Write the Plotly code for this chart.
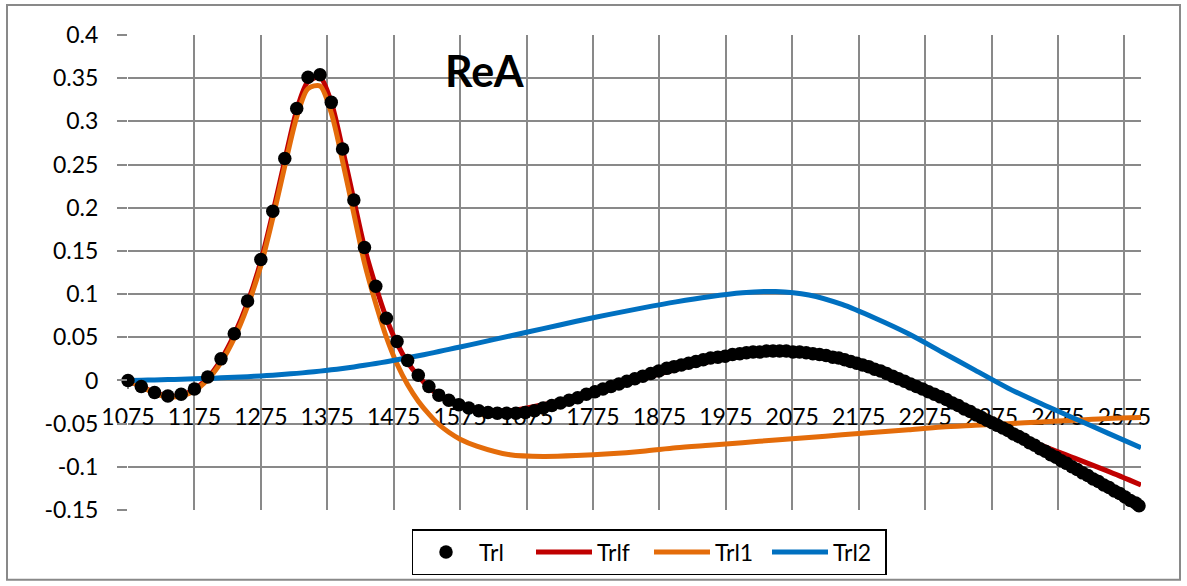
import plotly.graph_objects as go

# ---------------- data ----------------
trl_x = [1075, 1095, 1115, 1135, 1155, 1175, 1195, 1215, 1235, 1255, 1275, 1293, 1311, 1329, 1346, 1364,
         1381, 1398, 1415, 1431, 1448, 1464, 1480, 1496, 1512, 1528, 1543, 1558, 1573, 1588, 1603, 1617,
         1631, 1645, 1659, 1673, 1687, 1700, 1713, 1726, 1739, 1752, 1765, 1778, 1790, 1802, 1814, 1826,
         1838, 1850, 1862, 1874, 1886, 1897, 1908, 1919, 1930, 1941, 1952, 1963, 1974, 1985, 1996, 2006,
         2016, 2026, 2036, 2046, 2056, 2066, 2076, 2086, 2096, 2106, 2116, 2126, 2136, 2145, 2154, 2163,
         2172, 2181, 2190, 2199, 2208, 2217, 2226, 2235, 2244, 2253, 2262, 2271, 2280, 2289, 2298, 2307,
         2316, 2325, 2334, 2343, 2352, 2360, 2368, 2376, 2384, 2392, 2400, 2408, 2416, 2424, 2432, 2440,
         2448, 2456, 2464, 2472, 2480, 2488, 2496, 2504, 2512, 2520, 2528, 2536, 2544, 2552, 2560, 2568,
         2576, 2584, 2592, 2597]
trl_y = [0.000, -0.007, -0.014, -0.018, -0.016, -0.010, 0.004, 0.025, 0.054, 0.092, 0.140, 0.196, 0.257,
         0.315, 0.351, 0.354, 0.322, 0.268, 0.209, 0.154, 0.109, 0.072, 0.045, 0.023, 0.006, -0.007,
         -0.017, -0.023, -0.028, -0.032, -0.035, -0.037, -0.038, -0.038, -0.038, -0.037, -0.035, -0.032,
         -0.029, -0.026, -0.023, -0.020, -0.016, -0.013, -0.010, -0.007, -0.004, -0.001, 0.002, 0.005,
         0.008, 0.011, 0.014, 0.016, 0.018, 0.020, 0.022, 0.024, 0.026, 0.027, 0.028, 0.030, 0.031, 0.032,
         0.033, 0.033, 0.034, 0.034, 0.034, 0.034, 0.033, 0.033, 0.032, 0.031, 0.030, 0.029, 0.027, 0.026,
         0.024, 0.022, 0.020, 0.018, 0.016, 0.013, 0.011, 0.008, 0.005, 0.002, -0.001, -0.004, -0.007,
         -0.010, -0.013, -0.016, -0.019, -0.022, -0.026, -0.029, -0.033, -0.036, -0.040, -0.043, -0.046,
         -0.049, -0.052, -0.055, -0.058, -0.062, -0.065, -0.068, -0.072, -0.075, -0.079, -0.082, -0.086,
         -0.089, -0.093, -0.096, -0.100, -0.103, -0.107, -0.110, -0.114, -0.117, -0.121, -0.124, -0.128,
         -0.131, -0.135, -0.139, -0.142, -0.145]

line_x = [1075, 1095, 1115, 1135, 1155, 1175, 1195, 1215, 1235, 1255, 1275, 1293, 1311, 1329, 1346, 1364,
          1381, 1398, 1415, 1431, 1448, 1464, 1480, 1496, 1512, 1528, 1543, 1558, 1575, 1600, 1650, 1700,
          1750, 1800, 1850, 1900, 1950, 2000, 2050, 2100, 2150, 2200, 2250, 2300, 2350, 2400, 2450, 2500,
          2550, 2600]
trl2_y = [0.0000, 0.0003, 0.0006, 0.0010, 0.0014, 0.0019, 0.0024, 0.0030, 0.0037, 0.0044, 0.0052, 0.0061,
          0.0071, 0.0082, 0.0094, 0.0108, 0.0123, 0.0139, 0.0157, 0.0176, 0.0196, 0.0217, 0.0239, 0.0262,
          0.0286, 0.0311, 0.0335, 0.0360, 0.0388, 0.0430, 0.0515, 0.0600, 0.0685, 0.0765, 0.0840, 0.0910,
          0.0970, 0.1015, 0.1030, 0.0990, 0.0880, 0.0720, 0.0540, 0.0330, 0.0120, -0.0090, -0.0270,
          -0.0440, -0.0610, -0.0780]
trl1_y = [0.000, -0.007, -0.015, -0.019, -0.018, -0.012, 0.001, 0.021, 0.049, 0.086, 0.133, 0.188, 0.248,
          0.305, 0.338, 0.341, 0.310, 0.254, 0.193, 0.136, 0.089, 0.050, 0.019, -0.005, -0.024, -0.039,
          -0.051, -0.060, -0.068, -0.076, -0.086, -0.088, -0.087, -0.085, -0.082, -0.078, -0.075, -0.072,
          -0.069, -0.066, -0.063, -0.060, -0.057, -0.054, -0.052, -0.050, -0.048, -0.046, -0.044, -0.043]
trlf_y = [0.000, -0.007, -0.014, -0.018, -0.017, -0.010, 0.003, 0.024, 0.053, 0.090, 0.138, 0.194, 0.255,
          0.313, 0.346, 0.351, 0.322, 0.268, 0.209, 0.154, 0.109, 0.072, 0.043, 0.021, 0.005, -0.008,
          -0.017, -0.024, -0.029, -0.033, -0.035, -0.028, -0.019, -0.0085, 0.002, 0.013, 0.022, 0.0295,
          0.034, 0.033, 0.025, 0.012, -0.003, -0.021, -0.040, -0.059, -0.075, -0.090, -0.105, -0.121]

x_tickvals = [1075, 1175, 1275, 1375, 1475, 1575, 1675, 1775, 1875, 1975, 2075, 2175, 2275, 2375, 2475, 2575]
x_ticktext = ["1075", "1175", "1275", "1375", "1475", "1575", "1675", "1775", "1875", "1975", "2075",
              "2175", "2275", "2375", "2475", "2575"]
y_tickvals = [-0.15, -0.1, -0.05, 0, 0.05, 0.1, 0.15, 0.2, 0.25, 0.3, 0.35, 0.4]
y_ticktext = ["-0.15", "-0.1", "-0.05", "0", "0.05", "0.1", "0.15", "0.2", "0.25", "0.3", "0.35", "0.4"]
title_text = "ReA"

# ---------------- layout geometry ----------------
W, H = 1187, 586
L, R, T, B = 128, 46, 35, 75
pw, ph = W - L - R, H - T - B
X_MIN, X_MAX = 1075, 2600
Y_MIN, Y_MAX = -0.15, 0.4

def px_x(p):
    return (p - L) / pw

def px_y(p):
    return (H - B - p) / ph

FONT = "Lato"
FS = 23
GRID = "#898989"
LW = 5

fig = go.Figure()
fig.add_trace(go.Scatter(x=line_x, y=trlf_y, mode="lines", name="Trlf", legendrank=2,
                         line=dict(color="#C00000", width=LW, shape="spline", smoothing=0.8)))
fig.add_trace(go.Scatter(x=line_x, y=trl1_y, mode="lines", name="Trl1", legendrank=3,
                         line=dict(color="#E46C0A", width=LW, shape="spline", smoothing=0.8)))
fig.add_trace(go.Scatter(x=line_x, y=trl2_y, mode="lines", name="Trl2", legendrank=4,
                         line=dict(color="#0070C0", width=LW, shape="spline", smoothing=0.8)))
fig.add_trace(go.Scatter(x=trl_x, y=trl_y, mode="markers", name="Trl", legendrank=1, cliponaxis=False,
                         marker=dict(color="black", size=13.5, line=dict(width=0))))

fig.update_layout(
    width=W, height=H,
    margin=dict(l=L, r=R, t=T, b=B, pad=0),
    paper_bgcolor="white", plot_bgcolor="white",
    font=dict(family=FONT, size=FS, color="black"),
    showlegend=True,
    legend=dict(orientation="h", x=px_x(649), xanchor="center", y=px_y(529), yanchor="top",
                bordercolor="black", borderwidth=1.5, bgcolor="white",
                font=dict(family=FONT, size=FS, color="black"),
                itemwidth=56, entrywidth=47, traceorder="normal"),
    xaxis=dict(range=[X_MIN, X_MAX], tickvals=x_tickvals, ticktext=x_ticktext,
               showgrid=True, gridcolor=GRID, gridwidth=2, zeroline=False,
               showline=False, ticks="outside", ticklen=8, tickcolor=GRID, tickwidth=2,
               anchor="free", position=(0 - Y_MIN) / (Y_MAX - Y_MIN), layer="below traces",
               ticklabelstandoff=8,
               tickfont=dict(family=FONT, size=FS, color="black")),
    yaxis=dict(range=[Y_MIN, Y_MAX], tickvals=y_tickvals, ticktext=y_ticktext,
               showgrid=True, gridcolor=GRID, gridwidth=2, zeroline=False,
               showline=False, ticks="outside", ticklen=10, tickcolor=GRID, tickwidth=2,
               tickfont=dict(family=FONT, size=FS, color="black"), ticklabelstandoff=14),
    shapes=[dict(type="rect", xref="paper", yref="paper",
                 x0=px_x(7), x1=px_x(1180), y0=px_y(581), y1=px_y(5),
                 line=dict(color=GRID, width=2), fillcolor="rgba(0,0,0,0)", layer="below")],
    annotations=[dict(text="<b>" + title_text + "</b>", xref="paper", yref="paper",
                      x=px_x(485), y=px_y(71), xanchor="center", yanchor="middle",
                      showarrow=False, font=dict(family=FONT, size=43, color="black"))],
)

fig.write_html("out.html", config={"displayModeBar": False},
               post_script="document.body.style.margin='0';document.body.style.padding='0';")
